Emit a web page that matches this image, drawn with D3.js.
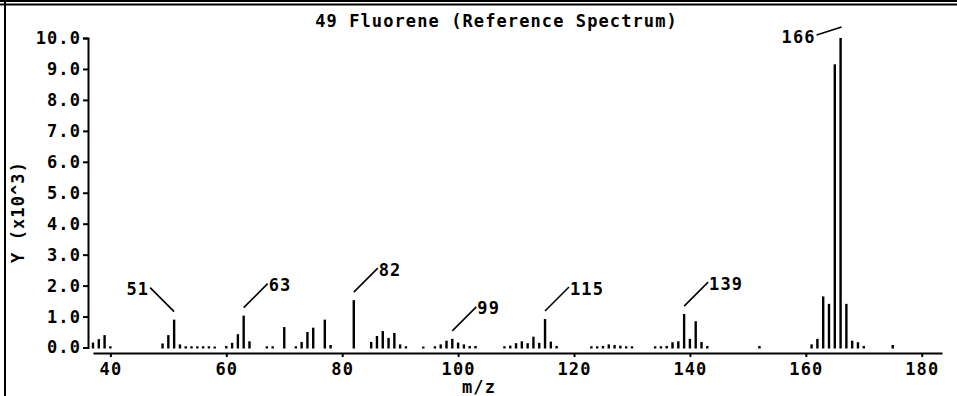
<!DOCTYPE html>
<html>
<head>
<meta charset="utf-8">
<script src="https://cdn.jsdelivr.net/npm/d3@7"></script>
<style>
  html, body { margin: 0; padding: 0; background: #fff; }
  svg { display: block; }
  text { font-family: "DejaVu Sans Mono", monospace; font-size: 17px; font-weight: bold; letter-spacing: 1.1px; fill: #000; }
</style>
</head>
<body>
<svg id="chart" width="957" height="396"></svg>
<script>
// ---- data (m/z and intensity in units of 10^3) ----
const title = "49 Fluorene (Reference Spectrum)";
const xLabel = "m/z";
const yLabel = "Y (x10^3)";
const mz = [37, 38, 39, 40, 49, 50, 51, 52, 53, 54, 55, 56, 57, 58,
  60, 61, 62, 63, 64, 67, 68, 70, 72, 73, 74, 75, 77, 78,
  82, 85, 86, 87, 88, 89, 90, 91, 94, 96, 97, 98, 99, 100, 101, 102, 103,
  108, 109, 110, 111, 112, 113, 114, 115, 116, 117,
  123, 124, 125, 126, 127, 128, 129, 130,
  134, 135, 136, 137, 138, 139, 140, 141, 142, 143, 152,
  161, 162, 163, 164, 165, 166, 167, 168, 169, 170, 175];
const intensity = [0.16, 0.27, 0.40, 0.04, 0.13, 0.40, 0.90, 0.10, 0.04, 0.04, 0.04, 0.04, 0.04, 0.03,
  0.05, 0.15, 0.43, 1.03, 0.20, 0.04, 0.04, 0.66, 0.04, 0.18, 0.50, 0.64, 0.90, 0.08,
  1.53, 0.18, 0.37, 0.53, 0.31, 0.47, 0.10, 0.04, 0.03, 0.04, 0.10, 0.22, 0.28, 0.16, 0.10, 0.05, 0.05,
  0.04, 0.06, 0.14, 0.20, 0.14, 0.35, 0.15, 0.92, 0.19, 0.05,
  0.04, 0.04, 0.05, 0.10, 0.08, 0.06, 0.04, 0.04,
  0.04, 0.04, 0.05, 0.17, 0.20, 1.08, 0.28, 0.85, 0.18, 0.05, 0.05,
  0.10, 0.28, 1.65, 1.41, 9.15, 10.0, 1.41, 0.22, 0.17, 0.05, 0.08];
const labeledPeaks = [51, 63, 82, 99, 115, 139, 166];
const xTicks = [40, 60, 80, 100, 120, 140, 160, 180];
const yTicks = [0, 1, 2, 3, 4, 5, 6, 7, 8, 9, 10];

// ---- drawing ----
const svg = d3.select("#chart");
const x = d3.scaleLinear().domain([37, 183.5]).range([93, 942]);
const y = d3.scaleLinear().domain([0, 10]).range([347.5, 38]);

// frame
svg.append("line").attr("x1", 0).attr("x2", 957).attr("y1", 1).attr("y2", 1).attr("stroke", "#000").attr("stroke-width", 2);
svg.append("line").attr("x1", 0).attr("x2", 957).attr("y1", 4.5).attr("y2", 4.5).attr("stroke", "#000").attr("stroke-width", 2);
svg.append("line").attr("x1", 5).attr("x2", 5).attr("y1", 0).attr("y2", 396).attr("stroke", "#000").attr("stroke-width", 2);

// title
svg.append("text").attr("x", 496.5).attr("y", 27).attr("text-anchor", "middle").text(title);

// y axis
const yAxis = svg.append("g").attr("transform", "translate(88,0)")
  .call(d3.axisLeft(y).tickValues(yTicks).tickFormat(d3.format(".1f")).tickSize(5).tickPadding(2));
// x axis
const xAxis = svg.append("g").attr("transform", "translate(0,353)")
  .call(d3.axisBottom(x).tickValues(xTicks).tickSize(4).tickSizeOuter(0).tickPadding(6));
[yAxis, xAxis].forEach(g => {
  g.selectAll("path, line").attr("stroke", "#000").attr("stroke-width", 2);
  g.selectAll("text").attr("font-family", null).attr("font-size", null).attr("fill", "#000");
});

// axis titles
svg.append("text").attr("x", 479).attr("y", 392.5).attr("text-anchor", "middle").text(xLabel);
svg.append("text").attr("transform", "translate(24,212) rotate(-90)").attr("text-anchor", "middle").text(yLabel);

// bars
const data = mz.map((m, i) => ({ m, v: intensity[i] }));
svg.append("g").selectAll("rect").data(data).join("rect")
  .attr("x", d => x(d.m) - 1.2)
  .attr("width", 2.4)
  .attr("y", d => y(d.v))
  .attr("height", d => y(0) - y(d.v) + 1)
  .attr("fill", "#000");

// peak labels
const lab = svg.append("g");
labeledPeaks.forEach(m => {
  const d = data.find(e => e.m === m);
  const bx = x(d.m), by = y(d.v);
  let x1, y1, x2, y2, tx, ty, anchor;
  if (m === 166) {
    x1 = bx + 1; y1 = by - 11; x2 = bx - 24; y2 = by - 3;
    tx = x2 - 1; ty = by + 4.5; anchor = "end";
  } else if (m === 51) {
    x1 = bx; y1 = by - 8; x2 = bx - 24; y2 = by - 32;
    tx = x2 - 1; ty = y2 + 7; anchor = "end";
  } else {
    x1 = bx; y1 = by - 8; x2 = bx + 24; y2 = by - 32;
    tx = x2 + 1; ty = y2 + 7.5; anchor = "start";
  }
  lab.append("line").attr("x1", x1).attr("y1", y1).attr("x2", x2).attr("y2", y2)
    .attr("stroke", "#000").attr("stroke-width", 1.6);
  lab.append("text").attr("x", tx).attr("y", ty).attr("text-anchor", anchor).text(m);
});
</script>
</body>
</html>
